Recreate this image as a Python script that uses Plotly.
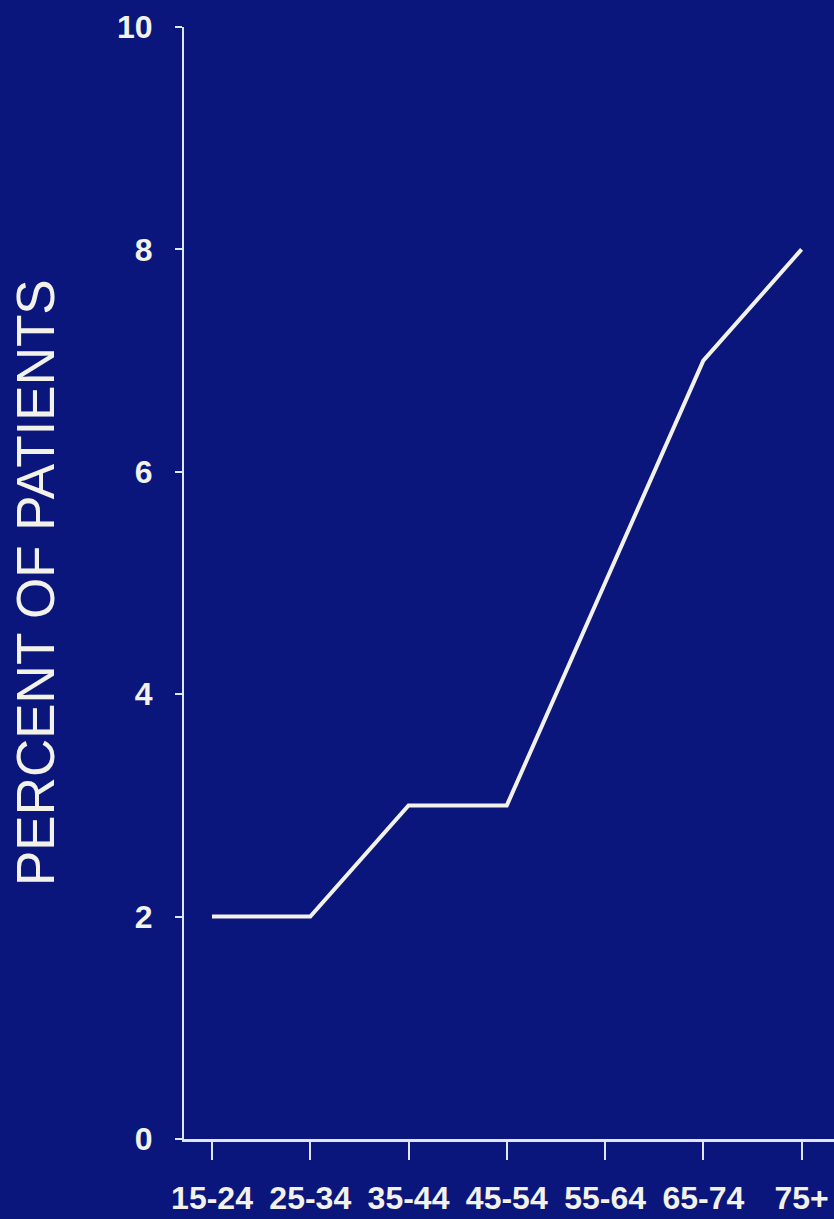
import plotly.graph_objects as go

age_groups = ["15-24", "25-34", "35-44", "45-54", "55-64", "65-74", "75+"]
percent_patients = [2, 2, 3, 3, 5, 7, 8]
y_ticks = [0, 2, 4, 6, 8, 10]

bg = "#0b167c"
fg = "#f2f2ea"
axis_col = "#dfe6f5"

fig = go.Figure()
fig.add_trace(go.Scatter(
    x=age_groups, y=percent_patients, mode="lines",
    line=dict(color=fg, width=4),
    hoverinfo="skip", showlegend=False,
))

tick_font = dict(family="Liberation Sans, Arial, sans-serif",
                 size=32, color=fg, weight="bold")

fig.update_layout(
    width=834, height=1219,
    paper_bgcolor=bg, plot_bgcolor=bg,
    margin=dict(l=184, r=0, t=27, b=80),
    xaxis=dict(
        type="category", range=[-0.285, 6.33],
        showgrid=False, zeroline=False,
        showline=True, linecolor=axis_col, linewidth=3,
        ticks="outside", ticklen=18, tickwidth=2, tickcolor=axis_col,
        tickfont=tick_font, ticklabelstandoff=11,
    ),
    yaxis=dict(
        range=[0, 10], tickvals=y_ticks,
        showgrid=False, zeroline=False,
        showline=True, linecolor=axis_col, linewidth=2,
        ticks="outside", ticklen=7, tickwidth=2, tickcolor=axis_col,
        tickfont=tick_font, ticklabelstandoff=16,
    ),
    annotations=[dict(
        text="PERCENT OF PATIENTS", textangle=-90,
        xref="paper", yref="paper", x=(35 - 184) / 650, y=0.5,
        xanchor="center", yanchor="middle", showarrow=False,
        font=dict(family="Liberation Sans, Arial, sans-serif", size=53, color=fg),
    )],
)

fig.write_html(
    "out.html",
    config={"displayModeBar": False},
    post_script="document.body.style.margin='0';document.body.style.background='" + bg + "';",
)
